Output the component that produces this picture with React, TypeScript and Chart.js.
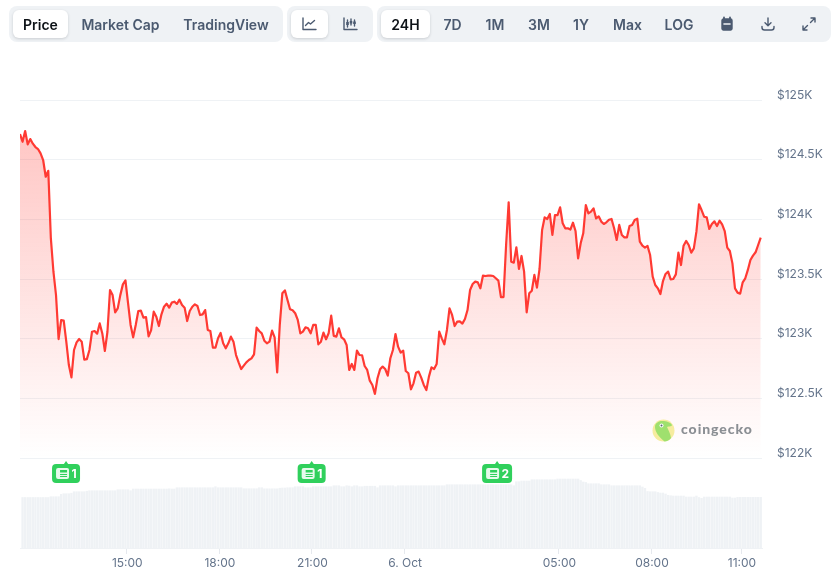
import React, { useEffect, useRef } from "react";
import { Chart, registerables } from "chart.js";

Chart.register(...registerables);

const prices = [
  124715, 124650, 124740, 124628, 124673, 124634, 124606, 124589, 124553, 124497,
  124357, 124407, 123840, 123561, 123366, 122997, 123156, 123151, 122975, 122779,
  122676, 122905, 122969, 122997, 122975, 122824, 122829, 122905, 123058, 123064,
  123042, 123128, 123044, 122897, 123058, 123407, 123365, 123220, 123254, 123365,
  123455, 123488, 123300, 123115, 123011, 123115, 123232, 123235, 123176, 123181,
  123020, 123073, 123226, 123184, 123106, 123204, 123268, 123293, 123260, 123302,
  123310, 123291, 123327, 123282, 123260, 123148, 123232, 123268, 123288, 123274,
  123198, 123204, 123240, 123073, 123064, 122925, 122925, 123003, 123048, 122961,
  122919, 122961, 123017, 122975, 122863, 122802, 122746, 122774, 122802, 122821,
  122835, 122869, 123092, 123064, 123045, 122983, 122961, 122975, 123067, 123011,
  122718, 123115, 123380, 123405, 123324, 123246, 123238, 123213, 123157, 123045,
  123059, 123095, 123087, 123045, 123115, 123115, 122953, 122975, 123051, 122995,
  123045, 123193, 123023, 123017, 123087, 123011, 122995, 122947, 122738, 122788,
  122738, 122900, 122863, 122861, 122771, 122738, 122648, 122612, 122537, 122668,
  122743, 122766, 122746, 122690, 122836, 122905, 123039, 122933, 122883, 122900,
  122729, 122710, 122576, 122626, 122715, 122724, 122674, 122612, 122570, 122682,
  122760, 122746, 122788, 123059, 123003, 122953, 123073, 123254, 123199, 123106,
  123143, 123145, 123126, 123165, 123240, 123408, 123458, 123478, 123472, 123422,
  123528, 123525, 123528, 123528, 123525, 123506, 123486, 123349, 123349, 123785,
  124143, 123645, 123637, 123766, 123584, 123693, 123562, 123221, 123380, 123402,
  123534, 123428, 123584, 123911, 124017, 124003, 124045, 123869, 124036, 124036,
  124101, 123967, 123925, 123925, 123914, 123972, 123902, 123673, 123799, 123883,
  124120, 124050, 124064, 124092, 124008, 124025, 123981, 123961, 123975, 123997,
  124003, 123925, 123827, 123953, 123869, 123849, 123849, 123944, 123953, 123995,
  124006, 123813, 123779, 123763, 123777, 123701, 123520, 123450, 123422, 123374,
  123483, 123542, 123562, 123497, 123500, 123539, 123721, 123617, 123779, 123819,
  123785, 123721, 123757, 123897, 124126, 124078, 124022, 124017, 123919, 123961,
  123983, 123944, 123989, 123958, 123902, 123763, 123735, 123631, 123422, 123386,
  123377, 123472, 123506, 123576, 123659, 123696, 123724, 123785, 123847,
];

const volumes = [
  50.5, 50.5, 50.5, 50.5, 50.5, 50.5, 50.5, 50.5, 50.5, 50.5,
  50.5, 51.3, 51.3, 51.3, 51.3, 53.7, 54.3, 54.3, 54.3, 54.8,
  56.3, 56.3, 56.3, 56.3, 56.3, 56.8, 57.3, 57.3, 57.3, 57.3,
  57.3, 57.3, 57.3, 57.3, 57.3, 57.3, 57.3, 58.3, 58.3, 58.3,
  58.3, 58.3, 57.3, 59, 59, 59, 59, 59, 59, 59,
  59, 59, 59, 59, 59, 59, 59, 59.2, 59, 59,
  60.3, 60.3, 60.3, 60.3, 60.3, 60.3, 60.3, 60.3, 60.3, 60.3,
  60.3, 60.3, 60.3, 60.3, 60.3, 61.3, 60.3, 60.3, 60.3, 60.3,
  60.3, 60.3, 60.3, 60.3, 60.3, 60.3, 59.3, 59.3, 59.3, 59.3,
  59.3, 59.3, 60.3, 60.3, 59.2, 59.2, 59.2, 59.2, 59.2, 59.2,
  59.8, 60, 60, 60.3, 60.3, 60.3, 61.3, 61.3, 61.3, 61.3,
  60.3, 60.3, 60.3, 61.3, 61.3, 61.3, 61.3, 61.3, 61.3, 61.3,
  61.3, 62.3, 62.3, 62.3, 61.3, 61.3, 62.3, 62, 61.3, 62.3,
  62.3, 61.3, 61.3, 61.8, 61.8, 61.8, 61.8, 61.8, 60.3, 62.3,
  62.3, 62.3, 62.3, 62.3, 62.3, 61.3, 62.3, 62.3, 62.3, 62.3,
  62.3, 62.3, 62.3, 62.3, 62.3, 62.3, 62.3, 62.3, 62.3, 62.3,
  62.3, 62.3, 62.3, 62.3, 62.3, 63.3, 63.3, 63.3, 63.3, 63.3,
  63.3, 63.3, 63.3, 63.3, 63.3, 63.3, 63.3, 63.3, 63.3, 63.3,
  63.3, 63.3, 63.3, 63.3, 63.3, 63.3, 63.3, 63.3, 63.3, 63.3,
  63.3, 62.3, 66.3, 66.3, 67, 67, 67, 67, 68.3, 68.3,
  68.3, 68.3, 68.3, 68.3, 68.3, 68.3, 68.3, 68.3, 69, 69,
  69, 69, 69, 69, 69, 69, 69, 67.5, 66, 65.5,
  64.3, 64.3, 64.3, 64.3, 64.3, 63.3, 63.3, 63.3, 63.3, 62.3,
  62.3, 62.3, 62.3, 62.3, 62.3, 62.3, 62.3, 62.3, 62.3, 62.3,
  62.3, 61, 59.7, 56.5, 56.3, 56.3, 56.3, 55.5, 55, 55,
  54, 52.7, 52.3, 52, 52, 52, 52, 52, 51, 51,
  51, 51, 52, 50.5, 49.7, 51, 51, 51, 51, 51,
  51, 51, 51, 51, 51, 51, 50, 50, 50.7, 50.7,
  50.7, 50.7, 50.7, 50.7, 50.7, 50.7, 50.7, 50.7,
];

const priceTicks = [125000, 124500, 124000, 123500, 123000, 122500, 122000];
const priceTickLabels = ["$125K", "$124.5K", "$124K", "$123.5K", "$123K", "$122.5K", "$122K"];
const timeTicks = [41.4, 77.4, 113.4, 149.4, 209.4, 245.4, 280.4];
const timeTickLabels = ["15:00", "18:00", "21:00", "6. Oct", "05:00", "08:00", "11:00"];
const newsPositions = [17.9, 113.4, 185.5];
const newsCounts = [1, 1, 2];

const tabsLeft = ["Market Cap", "TradingView"];
const ranges = ["7D", "1M", "3M", "1Y", "Max", "LOG"];

const RED = "rgb(255,58,51)";
const PANEL = "#eff2f5";
const FONT = "Inter, sans-serif";
const SLATE = "#4b5a70";

const newsBadges = {
  id: "newsBadges",
  afterDatasetsDraw(chart: any) {
    const { ctx, scales } = chart;
    newsPositions.forEach((pos, i) => {
      const cx = scales.x.getPixelForValue(pos);
      const w = newsCounts[i] > 1 ? 30 : 28;
      const left = cx - w / 2;
      ctx.save();
      ctx.fillStyle = "#30d05c";
      ctx.beginPath();
      ctx.moveTo(cx - 2.5, 464.5);
      ctx.lineTo(cx, 461);
      ctx.lineTo(cx + 2.5, 464.5);
      ctx.fill();
      ctx.beginPath();
      ctx.roundRect(left, 464, w, 19, 4);
      ctx.fill();
      ctx.fillStyle = "rgba(255,255,255,0.88)";
      ctx.beginPath();
      ctx.roundRect(left + 4, 468, 13, 11, 2);
      ctx.fill();
      ctx.fillStyle = "#30d05c";
      ctx.fillRect(left + 8, 470, 7, 2.5);
      ctx.fillRect(left + 8, 474, 7, 1);
      ctx.fillRect(left + 8, 476, 7, 1);
      ctx.fillStyle = "#ffffff";
      ctx.font = `700 12px ${FONT}`;
      ctx.textAlign = "left";
      ctx.textBaseline = "middle";
      ctx.fillText(String(newsCounts[i]), left + 19.5, 474);
      ctx.restore();
    });
  },
};

const Btn = ({ left, width, active, children }: any) => (
  <div
    style={{
      position: "absolute",
      left,
      top: 10,
      width,
      height: 28,
      display: "flex",
      alignItems: "center",
      justifyContent: "center",
      borderRadius: 6,
      background: active ? "#fff" : "transparent",
      boxShadow: active ? "0 1px 3px rgba(13,18,23,0.16)" : "none",
      color: active ? "#0d1217" : SLATE,
      font: `600 14px ${FONT}`,
      whiteSpace: "nowrap",
    }}
  >
    {children}
  </div>
);

const Panel = ({ left, width }: any) => (
  <div style={{ position: "absolute", left, top: 6, width, height: 36, borderRadius: 8, background: PANEL }} />
);

const Icon = ({ shift, children }: any) => (
  <svg
    width="16"
    height="16"
    viewBox="0 0 16 16"
    fill="none"
    stroke={SLATE}
    strokeWidth="1.4"
    strokeLinecap="round"
    strokeLinejoin="round"
    style={{ marginRight: shift || 0 }}
  >
    {children}
  </svg>
);

export default function App() {
  const ref = useRef<HTMLCanvasElement>(null);

  useEffect(() => {
    const chart = new Chart(ref.current as HTMLCanvasElement, {
      type: "line",
      data: {
        datasets: [
          {
            type: "line",
            data: prices.map((y, x) => ({ x, y })),
            yAxisID: "y",
            borderColor: RED,
            borderWidth: 2.2,
            pointRadius: 0,
            tension: 0,
            borderJoinStyle: "round",
            fill: { value: 122000 },
            order: 1,
            backgroundColor: (c: any) => {
              const ch = c.chart;
              const s = ch.scales.y;
              const top = s ? s.getPixelForValue(124750) : NaN;
              const bottom = s ? s.getPixelForValue(122000) : NaN;
              if (!ch.chartArea || !Number.isFinite(top) || !Number.isFinite(bottom)) return "rgba(255,58,51,0.1)";
              const g = ch.ctx.createLinearGradient(0, top, 0, bottom);
              g.addColorStop(0, "rgba(255,58,51,0.29)");
              g.addColorStop(1, "rgba(255,58,51,0)");
              return g;
            },
          },
          {
            type: "bar",
            data: volumes.map((y, i) => ({ x: i + 1, y })),
            yAxisID: "yVol",
            backgroundColor: PANEL,
            barThickness: 1.7,
            order: 2,
          },
        ] as any,
      },
      options: {
        animation: false,
        responsive: false,
        events: [],
        layout: { padding: { left: 20, top: 100, right: 0, bottom: 0 } },
        plugins: { legend: { display: false }, tooltip: { enabled: false } },
        scales: {
          x: {
            type: "linear",
            min: 0,
            max: 288.5,
            offset: false,
            border: { color: PANEL, width: 1 },
            grid: { offset: false, drawOnChartArea: false, drawTicks: true, tickLength: 6, color: "#e6e9ee" },
            afterBuildTicks: (s: any) => {
              s.ticks = timeTicks.map((value) => ({ value }));
            },
            afterFit: (s: any) => {
              s.height = 27;
            },
            ticks: {
              autoSkip: false,
              maxRotation: 0,
              padding: 2,
              labelOffset: 0.8,
              color: "#64748b",
              font: { family: FONT, size: 12 },
              callback: (_v: any, i: number) => timeTickLabels[i],
            },
          },
          y: {
            type: "linear",
            position: "right",
            min: 121246,
            max: 125000,
            border: { display: false },
            grid: { color: PANEL, drawTicks: false, lineWidth: 1 },
            afterBuildTicks: (s: any) => {
              s.ticks = priceTicks.map((value) => ({ value }));
            },
            afterFit: (s: any) => {
              s.width = 70;
            },
            ticks: {
              autoSkip: false,
              padding: 15,
              labelOffset: -5,
              color: "#64748b",
              font: { family: FONT, size: 12 },
              callback: (_v: any, i: number) => priceTickLabels[i],
            },
          },
          yVol: {
            type: "linear",
            display: false,
            min: 0,
            max: 448,
          },
        },
      } as any,
      plugins: [newsBadges],
    });
    return () => chart.destroy();
  }, []);

  return (
    <div style={{ position: "absolute", left: 0, top: 0, width: 832, height: 575, background: "#fff", overflow: "hidden" }}>
      <canvas ref={ref} width={832} height={575} style={{ position: "absolute", left: 0, top: 0 }} />

      <Panel left={9} width={274} />
      <Panel left={287} width={86} />
      <Panel left={377} width={454} />

      <Btn left={13} width={55} active>Price</Btn>
      <Btn left={72.5} width={96}>{tabsLeft[0]}</Btn>
      <Btn left={172} width={108}>{tabsLeft[1]}</Btn>

      <Btn left={291} width={37} active>
        <Icon shift={2}>
          <path d="M2 2v11.5h13" />
          <path d="M4.5 9.5l3-3 2 1.5 4-3.5" />
        </Icon>
      </Btn>
      <Btn left={332} width={37}>
        <Icon shift={2}>
          <path d="M2 2v11.5h13" />
          <path d="M5.5 4v7M9 3v6M12.5 4v6" />
          <path d="M5.5 6v3M9 5v2.5M12.5 5.5v2.5" strokeWidth="2.6" strokeLinecap="butt" />
        </Icon>
      </Btn>

      <Btn left={381} width={49} active>24H</Btn>
      <Btn left={432.5} width={40}>{ranges[0]}</Btn>
      <Btn left={475} width={40}>{ranges[1]}</Btn>
      <Btn left={519} width={40}>{ranges[2]}</Btn>
      <Btn left={561} width={40}>{ranges[3]}</Btn>
      <Btn left={607.5} width={40}>{ranges[4]}</Btn>
      <Btn left={659} width={40}>{ranges[5]}</Btn>

      <Btn left={712} width={30}>
        <Icon>
          <path d="M3 4.5a1.5 1.5 0 0 1 1.5-1.5h7A1.5 1.5 0 0 1 13 4.5v8a1.5 1.5 0 0 1-1.5 1.5h-7A1.5 1.5 0 0 1 3 12.5z" fill={SLATE} />
          <path d="M5 1.5v2M11 1.5v2" strokeWidth="1.8" />
          <path d="M5 8h6" stroke="#eff2f5" strokeWidth="1.6" />
        </Icon>
      </Btn>
      <Btn left={753} width={30}>
        <Icon>
          <path d="M8 2v7.5M5 6.8L8 9.7l3-2.9" />
          <path d="M2 10.5v1a2.5 2.5 0 0 0 2.5 2.5h7a2.5 2.5 0 0 0 2.5-2.5v-1" />
        </Icon>
      </Btn>
      <Btn left={794} width={30}>
        <Icon>
          <path d="M9.5 6.5L14 2M10 2h4v4" />
          <path d="M6.5 9.5L2 14M2 10v4h4" />
        </Icon>
      </Btn>

      <svg style={{ position: "absolute", left: 652, top: 419 }} width="23" height="23" viewBox="0 0 23 23">
        <circle cx="11.5" cy="11.5" r="11" fill="#f6ec9f" />
        <path d="M3 8C3 3 8 1.5 12 2c4 .4 7 2 8 4 .4 1-3 1.5-5 2 1.5 3 3.5 7 4 11-1.5 2-4 3.5-6.5 3.5C7 18 3 13 3 8z" fill="#9fe06e" />
        <circle cx="9.5" cy="6.5" r="2" fill="#fff" />
        <circle cx="9.5" cy="6.5" r="1" fill="#56636f" />
      </svg>
      <div style={{ position: "absolute", left: 681, top: 420, font: `900 14px Lato, ${FONT}`, letterSpacing: 0.95, color: "#8b8f94", lineHeight: "18px" }}>
        coingecko
      </div>
    </div>
  );
}
